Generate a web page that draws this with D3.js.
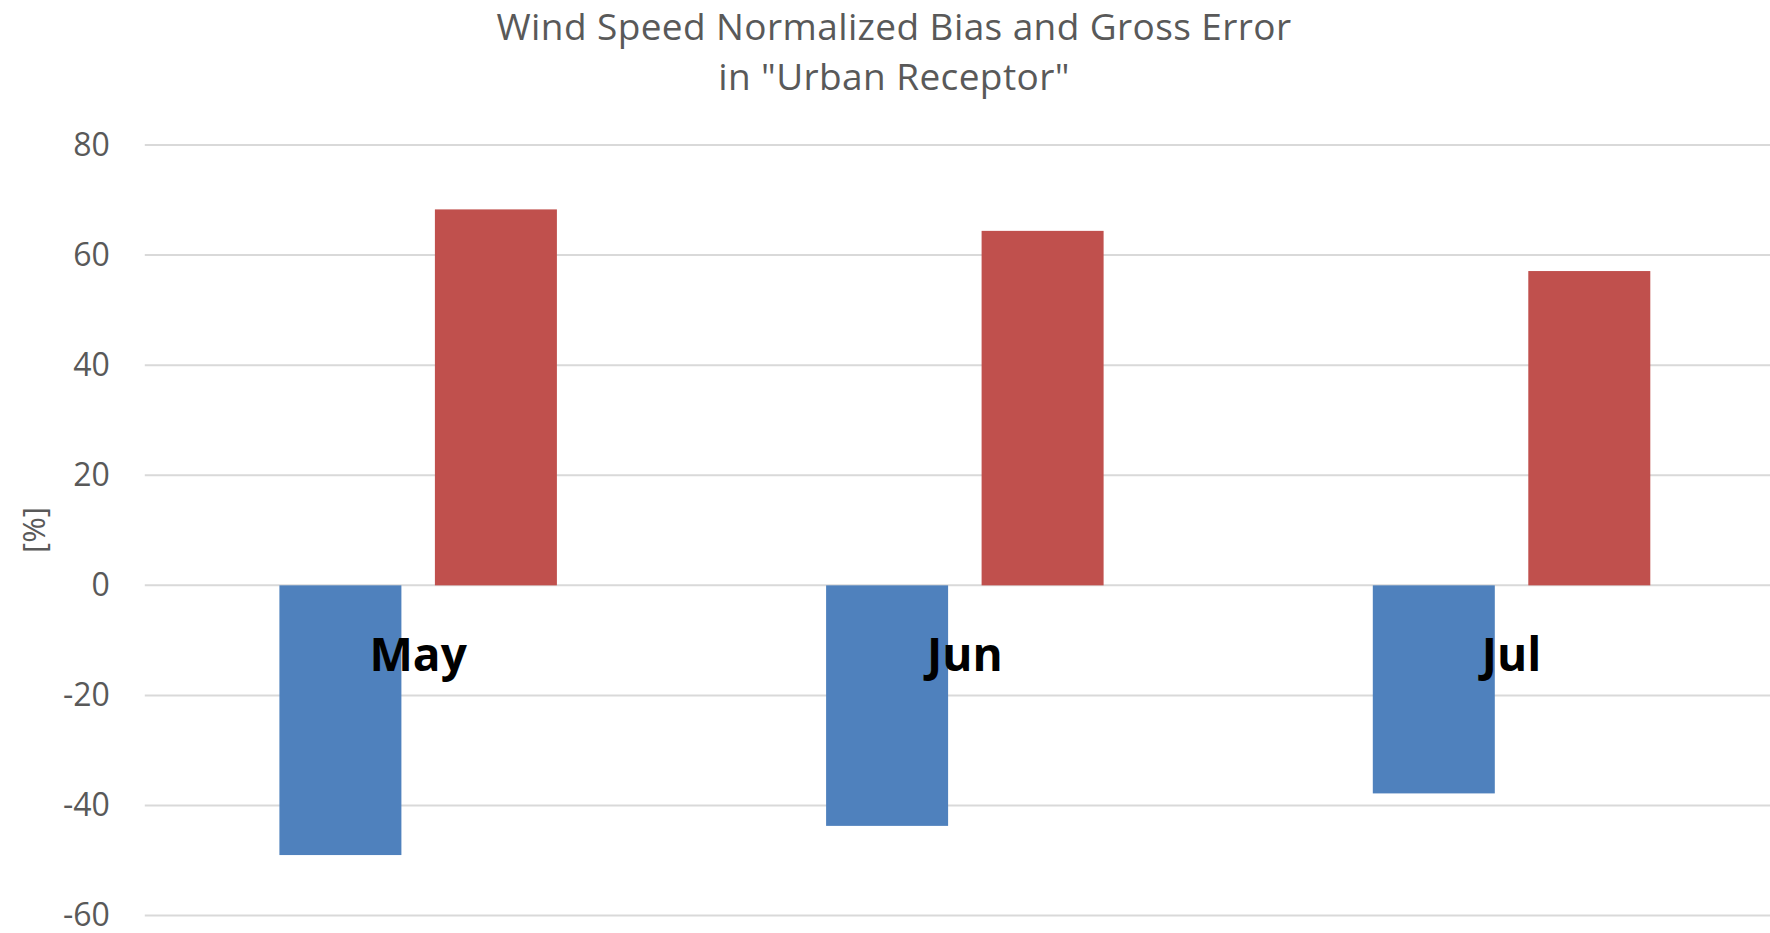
<!DOCTYPE html>
<html>
<head>
<meta charset="utf-8">
<script src="https://cdn.jsdelivr.net/npm/d3@7"></script>
<style>
  html, body { margin: 0; padding: 0; background: #ffffff; }
  svg { display: block; }
</style>
</head>
<body>
<svg id="chart" width="1770" height="933"></svg>
<script>
// Monthly categories
const months = ["May", "Jun", "Jul"];
// Series: normalized bias and gross error, in percent
const seriesNames = ["Normalized Bias", "Gross Error"];
const normalizedBias = [-49.0, -43.7, -37.8];
const grossError = [68.3, 64.4, 57.1];
// Value axis ticks
const yTicks = [-60, -40, -20, 0, 20, 40, 60, 80];
const titleLines = ["Wind Speed Normalized Bias and Gross Error", "in \"Urban Receptor\""];
const yAxisTitle = "[%]";

const seriesValues = [normalizedBias, grossError];
const seriesColors = ["#4F81BD", "#C0504D"];

const svg = d3.select("#chart");
const W = 1770, H = 933;
const plot = { left: 144.8, right: 1784.9, top: 145, bottom: 915.6 };

const x0 = d3.scaleBand().domain(months).range([plot.left, plot.right]).paddingInner(0).paddingOuter(0);
const x1 = d3.scaleBand().domain(seriesNames).range([0, x0.step()]).paddingInner(0.2154).paddingOuter(0.8656);
const y = d3.scaleLinear().domain([-60, 80]).range([plot.bottom, plot.top]);

// Horizontal gridlines
svg.append("g").selectAll("line").data(yTicks).join("line")
  .attr("x1", plot.left).attr("x2", W)
  .attr("y1", d => y(d)).attr("y2", d => y(d))
  .attr("stroke", "#d9d9d9").attr("stroke-width", 2);

// Value axis labels (plain hyphen for negatives)
const yAxis = d3.axisLeft(y).tickValues(yTicks).tickSize(0).tickPadding(35)
  .tickFormat(d => String(d));
const gy = svg.append("g").attr("transform", `translate(${plot.left},0)`).call(yAxis);
gy.select(".domain").remove();
gy.selectAll("text")
  .attr("fill", "#595959")
  .style("font-family", "'Open Sans', sans-serif")
  .style("font-size", "32px");

// Bars
const rows = months.map((m, i) => ({ month: m, values: seriesNames.map((s, j) => ({ s, j, v: seriesValues[j][i] })) }));
svg.append("g").selectAll("g").data(rows).join("g")
  .attr("transform", d => `translate(${x0(d.month)},0)`)
  .selectAll("rect").data(d => d.values).join("rect")
  .attr("x", d => x1(d.s))
  .attr("width", x1.bandwidth())
  .attr("y", d => y(Math.max(0, d.v)))
  .attr("height", d => Math.abs(y(d.v) - y(0)))
  .attr("fill", d => seriesColors[d.j]);

// Category labels, placed just below the zero line
svg.append("g").selectAll("text").data(months).join("text")
  .attr("x", d => x0(d) + x0.bandwidth() / 2)
  .attr("y", 670.5)
  .attr("text-anchor", "middle")
  .attr("fill", "#000000")
  .style("font-family", "'Open Sans', sans-serif")
  .style("font-weight", "bold")
  .style("font-size", "46px")
  .text(d => d);

// Title
svg.append("g").selectAll("text").data(titleLines).join("text")
  .attr("x", 894)
  .attr("y", (d, i) => 40 + i * 49.5)
  .attr("text-anchor", "middle")
  .attr("fill", "#595959")
  .style("font-family", "'Open Sans', sans-serif")
  .style("font-size", "37px")
  .style("letter-spacing", "0.4px")
  .text(d => d);

// Value axis title
svg.append("text")
  .attr("transform", "translate(32.5,530) rotate(-90)")
  .attr("text-anchor", "middle")
  .attr("dominant-baseline", "central")
  .attr("fill", "#595959")
  .style("font-family", "'Open Sans', sans-serif")
  .style("font-size", "31px")
  .text(yAxisTitle);
</script>
</body>
</html>
